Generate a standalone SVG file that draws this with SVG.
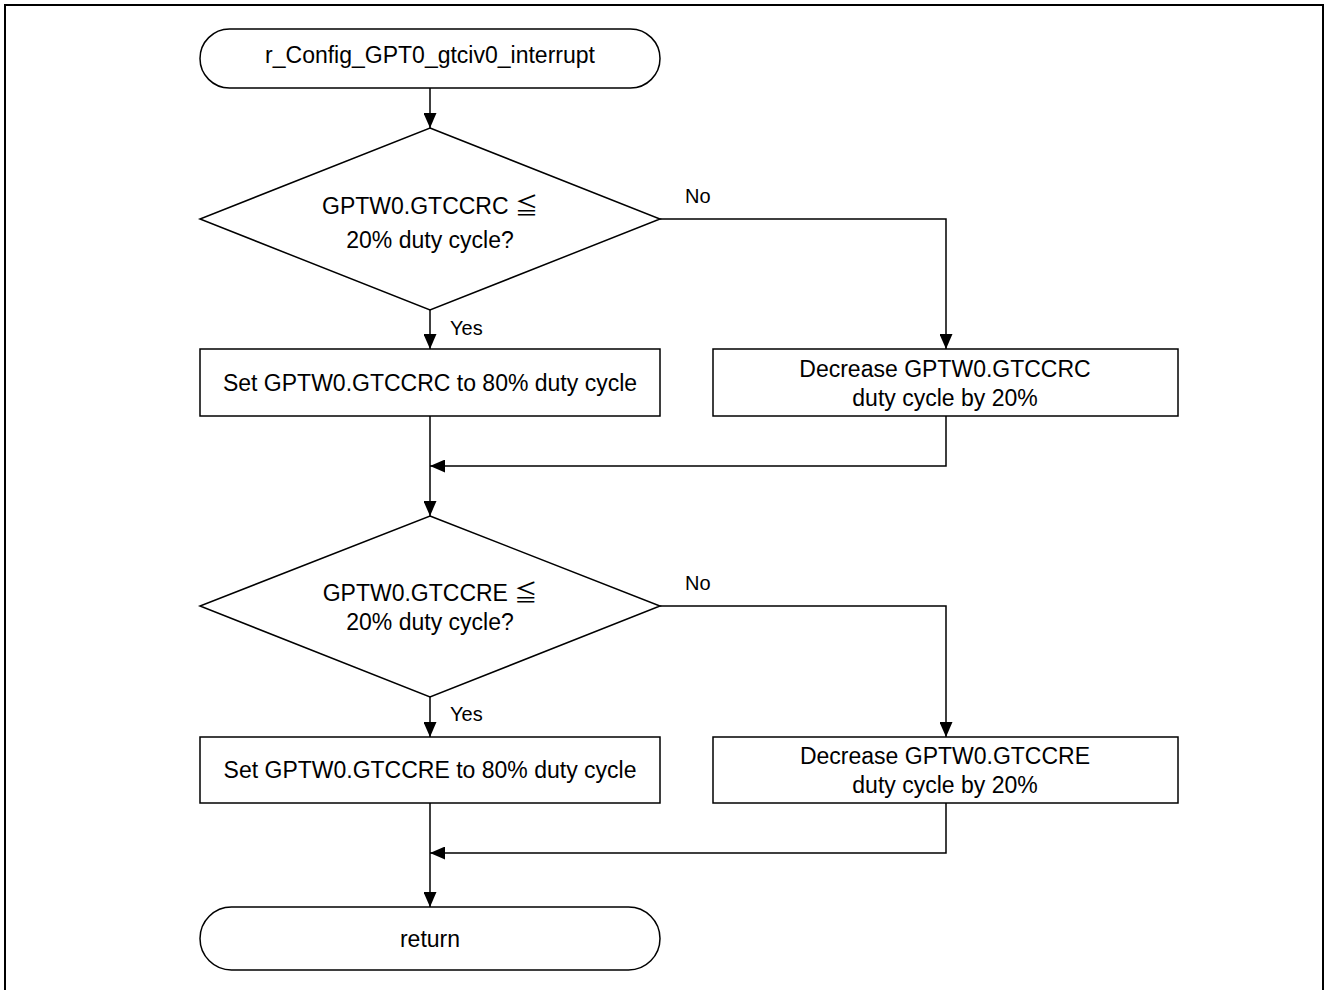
<svg xmlns="http://www.w3.org/2000/svg" width="1328" height="990" viewBox="0 0 1328 990">
<style>
.s{fill:#fff;stroke:#000;stroke-width:1.5}
.c{fill:none;stroke:#000;stroke-width:1.5}
text{font-family:"Liberation Sans",Arial,"Noto Sans CJK JP",sans-serif;font-size:23px;fill:#000}
.m{text-anchor:middle}
.l{font-size:20px}
</style>
<defs>
<marker id="a" markerWidth="15" markerHeight="13" refX="15" refY="6.5" viewBox="0 0 15 13" markerUnits="userSpaceOnUse" orient="auto">
<path d="M0,0 L15,6.5 L0,13 Z" fill="#000"/>
</marker>
</defs>
<rect x="5" y="5" width="1318" height="1000" fill="#fff" stroke="#000" stroke-width="2"/>
<g id="connectors">
<path class="c" d="M430,88 V128" marker-end="url(#a)"/>
<path class="c" d="M430,310 V349" marker-end="url(#a)"/>
<path class="c" d="M660,219 H946 V349" marker-end="url(#a)"/>
<path class="c" d="M430,416 V516" marker-end="url(#a)"/>
<path class="c" d="M946,416 V466 H430" marker-end="url(#a)"/>
<path class="c" d="M430,697 V737" marker-end="url(#a)"/>
<path class="c" d="M660,606 H946 V737" marker-end="url(#a)"/>
<path class="c" d="M430,803 V907" marker-end="url(#a)"/>
<path class="c" d="M946,803 V853 H430" marker-end="url(#a)"/>
<text class="l" x="685" y="203">No</text>
<text class="l" x="450" y="335">Yes</text>
<text class="l" x="685" y="590">No</text>
<text class="l" x="450" y="721">Yes</text>
</g>
<g id="start">
<rect class="s" x="200" y="29" width="460" height="59" rx="29.5"/>
<text class="m" x="430" y="63">r_Config_GPT0_gtciv0_interrupt</text>
</g>
<g id="dec1">
<path class="s" d="M430,128 L660,219 L430,310 L200,219 Z"/>
<text class="m" x="430" y="214">GPTW0.GTCCRC ≦</text>
<text class="m" x="430" y="248">20% duty cycle?</text>
</g>
<g id="set1">
<rect class="s" x="200" y="349" width="460" height="67"/>
<text class="m" x="430" y="391">Set GPTW0.GTCCRC to 80% duty cycle</text>
</g>
<g id="decr1">
<rect class="s" x="713" y="349" width="465" height="67"/>
<text class="m" x="945" y="377">Decrease GPTW0.GTCCRC</text>
<text class="m" x="945" y="406">duty cycle by 20%</text>
</g>
<g id="dec2">
<path class="s" d="M430,516 L660,606 L430,697 L200,606 Z"/>
<text class="m" x="430" y="601">GPTW0.GTCCRE ≦</text>
<text class="m" x="430" y="630">20% duty cycle?</text>
</g>
<g id="set2">
<rect class="s" x="200" y="737" width="460" height="66"/>
<text class="m" x="430" y="778">Set GPTW0.GTCCRE to 80% duty cycle</text>
</g>
<g id="decr2">
<rect class="s" x="713" y="737" width="465" height="66"/>
<text class="m" x="945" y="764">Decrease GPTW0.GTCCRE</text>
<text class="m" x="945" y="793">duty cycle by 20%</text>
</g>
<g id="end">
<rect class="s" x="200" y="907" width="460" height="63" rx="31.5"/>
<text class="m" x="430" y="947">return</text>
</g>
</svg>
